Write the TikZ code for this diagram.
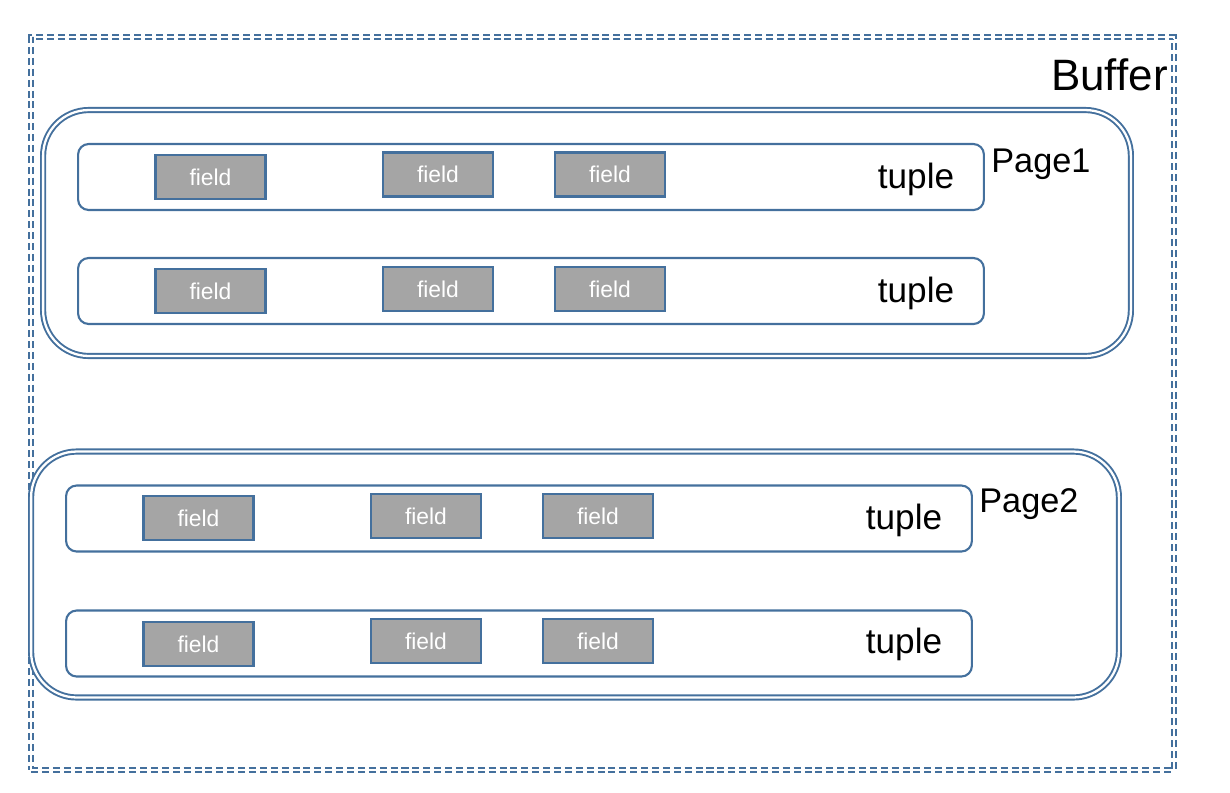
\documentclass[tikz,border=0pt]{standalone}
\usepackage{fontspec}
\setmainfont{Liberation Sans}
\definecolor{edgeblue}{HTML}{44709D}
\definecolor{fieldgray}{HTML}{A5A5A5}

\begin{document}
\begin{tikzpicture}[x=0.02cm, y=-0.02cm]
  \tikzset{buffer box/.style={draw=edgeblue, double, double distance=1.3pt, line width=1.1pt,
                              dash pattern=on 4pt off 2.2pt, inner sep=0pt,
                              minimum width=22.86cm, minimum height=14.66cm},
           page box/.style={draw=edgeblue, double, double distance=1.3pt, line width=1.1pt,
                            rounded corners=26pt, inner sep=0pt,
                            minimum width=21.76cm, minimum height=4.92cm},
           tuple box/.style={draw=edgeblue, line width=1.2pt, rounded corners=6pt, inner sep=0pt,
                             minimum width=18.12cm, minimum height=1.32cm},
           field box/.style={draw=edgeblue, fill=fieldgray, line width=1.2pt, inner sep=0pt,
                             minimum width=2.2cm, minimum height=0.88cm, text=white,
                             font=\fontsize{13}{13}\selectfont},
           tuple label/.style={anchor=base, font=\fontsize{20}{20}\selectfont},
           page label/.style={anchor=base west, inner sep=0pt, font=\fontsize{19.5}{19.5}\selectfont}}
  \useasboundingbox (0,0) rectangle (1230,792);
  \node[buffer box] (buffer) at (602.5,403.5) {};
  \node[anchor=base east, inner sep=0pt, font=\fontsize{25}{25}\selectfont] (buflabel) at (1168,90) {Buffer};
  % Page1
  \node[page box] (page1) at (587,233) {};
  \node[page label] (p1label) at (991,172) {Page1};
  \node[tuple box] (t11) at (531,177) {};
  \node[tuple box] (t12) at (531,291) {};
  \node[tuple label] (t11label) at (916,188) {tuple};
  \node[tuple label] (t12label) at (916,302) {tuple};
  \node[field box] (f111) at (210.5,177) {field};
  \node[field box] (f112) at (438,174.5) {field};
  \node[field box] (f113) at (610,174.5) {field};
  \node[field box] (f121) at (210.5,291) {field};
  \node[field box] (f122) at (438,289) {field};
  \node[field box] (f123) at (610,289) {field};
  % Page2
  \node[page box] (page2) at (575,574.5) {};
  \node[page label] (p2label) at (979,512) {Page2};
  \node[tuple box] (t21) at (519,518.5) {};
  \node[tuple box] (t22) at (519,643.5) {};
  \node[tuple label] (t21label) at (904,529) {tuple};
  \node[tuple label] (t22label) at (904,653) {tuple};
  \node[field box] (f211) at (198.5,518) {field};
  \node[field box] (f212) at (426,516) {field};
  \node[field box] (f213) at (598,516) {field};
  \node[field box] (f221) at (198.5,644) {field};
  \node[field box] (f222) at (426,641) {field};
  \node[field box] (f223) at (598,641) {field};
\end{tikzpicture}
\end{document}
